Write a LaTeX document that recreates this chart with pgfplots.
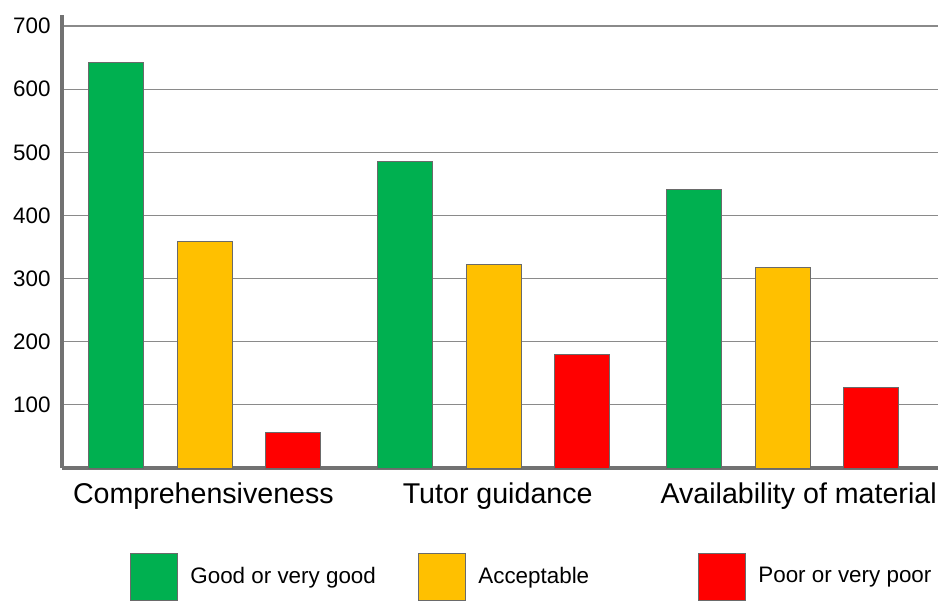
\documentclass[border=0pt]{standalone}
\usepackage{pgfplots}
\pgfplotsset{compat=1.18}
\usepackage{fontspec}
\setmainfont{Liberation Sans}
\definecolor{cgreen}{HTML}{00B050}
\definecolor{cyellow}{HTML}{FFC000}
\definecolor{cred}{HTML}{FF0000}
\definecolor{axgray}{HTML}{727272}
\definecolor{gridgray}{HTML}{8A8A8A}
\definecolor{bargray}{HTML}{6A6A6A}
\begin{document}
\begin{tikzpicture}
\useasboundingbox (-31pt,-66.5pt) rectangle (442pt,234pt);
\begin{axis}[
  at={(0pt,0pt)}, anchor=south west,
  scale only axis, width=438pt, height=221pt,
  ybar,
  xmin=-0.494, xmax=2.536,
  ymin=0, ymax=700,
  ytick={100,200,300,400,500,600,700},
  xtick={-0.005,1.013,2.054},
  xticklabels={Comprehensiveness,Tutor guidance,Availability of material},
  major tick length=0pt,
  axis lines=left,
  axis line style={-, axgray, line width=2pt},
  y axis line style={shorten >=-5.5pt},
  ymajorgrids, grid style={gridgray, line width=0.6pt},
  /pgf/number format/assume math mode=true,
  yticklabel style={font=\fontsize{11.2}{13}\selectfont, inner sep=0pt, xshift=-5.5pt},
  xticklabel style={font=\fontsize{14.3}{16}\selectfont, inner sep=0pt, anchor=north, yshift=-7pt},
  bar width=27.5pt,
  legend image code/.code={\draw[#1, draw=bargray, line width=0.5pt] (0pt,-11.75pt) rectangle (23.5pt,11.75pt);},
  legend style={at={(0.0776,-0.2455)}, anchor=west, draw=none, fill=none, inner sep=0pt,
    font=\fontsize{11.2}{13}\selectfont, legend columns=3,
    nodes={inner sep=0pt},
    /tikz/every odd column/.append style={column sep=6pt},
    /tikz/every even column/.append style={column sep=0pt}},
  legend cell align=left,
]
\addplot[fill=cgreen, draw=bargray, line width=0.5pt, bar shift=-44.5pt] coordinates {(0,643) (1,485) (2,441)};
\addlegendentry{\makebox[114pt][l]{Good or very good}}
\addplot[fill=cyellow, draw=bargray, line width=0.5pt, bar shift=0pt] coordinates {(0,358) (1,322) (2,318)};
\addlegendentry{\makebox[110pt][l]{Acceptable}}
\addplot[fill=cred, draw=bargray, line width=0.5pt, bar shift=44pt] coordinates {(0,57) (1,179) (2,128)};
\addlegendentry{Poor or very poor}
\end{axis}
\end{tikzpicture}
\end{document}
